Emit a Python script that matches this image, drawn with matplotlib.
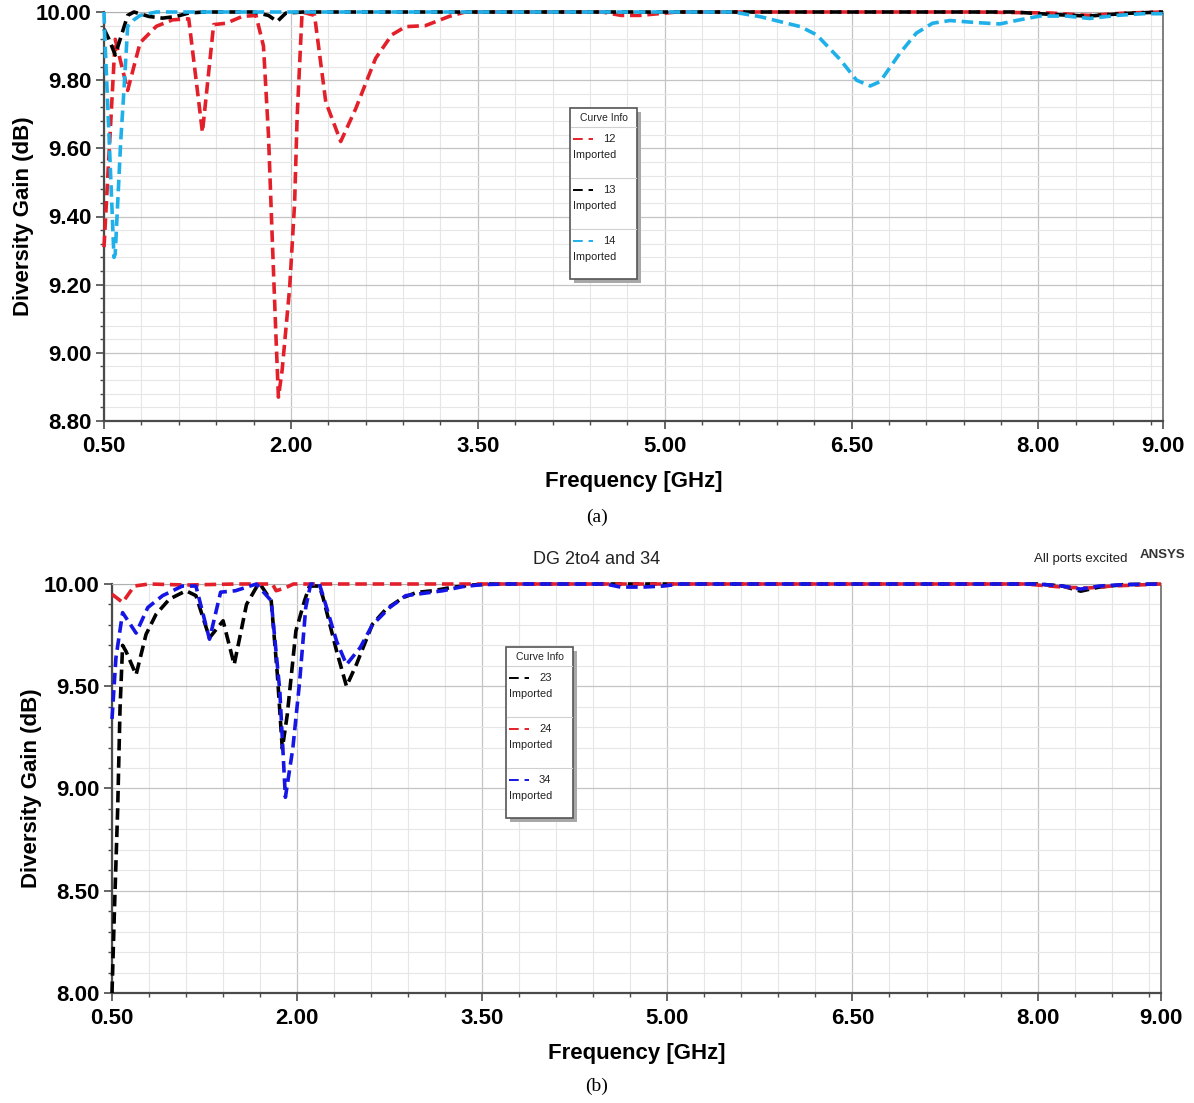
import matplotlib
matplotlib.use("Agg")
import matplotlib.pyplot as plt
from matplotlib.ticker import FixedLocator, MultipleLocator, FormatStrFormatter
from matplotlib.patches import Rectangle
from matplotlib.lines import Line2D

plt.rcParams['font.family'] = ['Liberation Sans', 'DejaVu Sans']

# ---------------- data: panel (a) ----------------
freq_12 = [0.50, 0.59, 0.69, 0.79, 0.92, 1.05, 1.18, 1.29, 1.38, 1.48, 1.61, 1.72,
           1.78, 1.82, 1.85, 1.88, 1.90, 1.93, 1.99, 2.03, 2.05, 2.09, 2.19, 2.28,
           2.40, 2.52, 2.68, 2.81, 2.92, 3.08, 3.27, 3.40, 3.60, 4.50, 4.65, 4.80,
           4.95, 5.10, 7.50, 8.10, 8.40, 8.70, 9.00]
dg_12 = [9.31, 9.92, 9.77, 9.91, 9.958, 9.977, 9.98, 9.647, 9.963, 9.967, 9.987, 9.99,
         9.90, 9.64, 9.34, 9.05, 8.87, 8.95, 9.19, 9.44, 9.69, 10.0, 9.99, 9.736,
         9.62, 9.716, 9.864, 9.933, 9.957, 9.96, 9.987, 10.0, 10.0, 10.0, 9.99, 9.99,
         9.995, 10.0, 10.0, 9.997, 9.99, 9.997, 10.0]

freq_13 = [0.50, 0.54, 0.59, 0.69, 0.74, 0.86, 0.97, 1.08, 1.18, 1.30, 1.70, 1.82,
           1.89, 1.96, 2.10, 7.80, 8.10, 8.40, 8.70, 9.00]
dg_13 = [9.95, 9.92, 9.874, 9.99, 10.0, 9.987, 9.982, 9.987, 9.997, 10.0, 10.0, 9.99,
         9.972, 9.997, 10.0, 10.0, 9.993, 9.988, 9.996, 10.0]

freq_14 = [0.50, 0.505, 0.54, 0.58, 0.59, 0.634, 0.66, 0.69, 0.74, 0.79, 0.92, 5.55,
           5.77, 6.09, 6.22, 6.41, 6.54, 6.65, 6.73, 6.89, 7.02, 7.15, 7.29, 7.50,
           7.69, 7.85, 8.01, 8.23, 8.41, 8.63, 8.84, 9.00]
dg_14 = [10.0, 9.94, 9.64, 9.28, 9.29, 9.62, 9.77, 9.958, 9.977, 9.99, 10.0, 10.0,
         9.986, 9.957, 9.933, 9.86, 9.80, 9.783, 9.796, 9.88, 9.938, 9.967, 9.975, 9.969,
         9.965, 9.977, 9.988, 9.988, 9.981, 9.99, 9.995, 9.995]

# ---------------- data: panel (b) ----------------
freq_23 = [0.50, 0.52, 0.546, 0.565, 0.586, 0.614, 0.695, 0.776, 0.857, 0.965, 1.10,
           1.18, 1.29, 1.40, 1.49, 1.59, 1.67, 1.70, 1.79, 1.84, 1.88, 1.92, 1.99,
           2.06, 2.10, 2.18, 2.21, 2.32, 2.40, 2.48, 2.61, 2.72, 2.86, 2.97, 3.10,
           3.26, 3.42, 3.56, 8.00, 8.20, 8.35, 8.50, 8.70, 9.00]
dg_23 = [8.00, 8.41, 8.90, 9.39, 9.70, 9.67, 9.556, 9.754, 9.852, 9.926, 9.967,
         9.943, 9.737, 9.82, 9.606, 9.90, 9.984, 10.0, 9.918, 9.557, 9.195, 9.36, 9.77,
         9.918, 9.99, 9.99, 9.934, 9.672, 9.50, 9.606, 9.803, 9.877, 9.934, 9.959, 9.967,
         9.984, 9.995, 10.0, 10.0, 9.99, 9.965, 9.985, 9.997, 10.0]

freq_24 = [0.50, 0.586, 0.68, 0.80, 1.10, 1.50, 1.80, 1.83, 1.90, 1.97, 2.10, 7.90,
           8.20, 8.40, 8.60, 9.00]
dg_24 = [9.95, 9.91, 9.99, 10.0, 9.995, 10.0, 10.0, 9.967, 9.98, 10.0, 10.0, 10.0,
         9.985, 9.98, 9.99, 10.0]

freq_34 = [0.50, 0.532, 0.586, 0.695, 0.79, 0.91, 1.07, 1.18, 1.29, 1.38, 1.50, 1.67,
           1.79, 1.86, 1.905, 1.965, 2.02, 2.07, 2.11, 2.18, 2.21, 2.32, 2.40, 2.51,
           2.61, 2.75, 2.88, 3.02, 3.18, 3.34, 3.50, 3.70, 4.50, 4.62, 4.80, 4.97,
           5.10, 8.00, 8.20, 8.35, 8.50, 8.70, 9.00]
dg_34 = [9.34, 9.64, 9.86, 9.76, 9.885, 9.943, 9.99, 9.99, 9.73, 9.96, 9.967, 10.0,
         9.918, 9.475, 8.957, 9.195, 9.52, 9.885, 10.0, 10.0, 9.943, 9.72, 9.606, 9.688,
         9.80, 9.885, 9.943, 9.954, 9.967, 9.987, 9.997, 10.0, 10.0, 9.985, 9.985, 9.99,
         10.0, 10.0, 9.99, 9.975, 9.99, 9.997, 10.0]

x_ticks = [0.5, 2.0, 3.5, 5.0, 6.5, 8.0, 9.0]
yticks_a = [8.8, 9.0, 9.2, 9.4, 9.6, 9.8, 10.0]
yticks_b = [8.0, 8.5, 9.0, 9.5, 10.0]

RED = '#e3202a'
BLACK = '#000000'
CYAN = '#1fb0ea'
BLUE = '#1515e6'

W, H = 1194, 1103
fig = plt.figure(figsize=(W / 100, H / 100), dpi=100)


def fx(x):
    return x / W


def fy(y):
    return 1 - y / H


def make_axes(left, top, right, bottom, yticks, ystep_minor):
    ax = fig.add_axes([fx(left), fy(bottom), fx(right) - fx(left), fy(top) - fy(bottom)])
    ax.set_xlim(0.5, 9.0)
    ax.set_ylim(yticks[0], yticks[-1])
    ax.xaxis.set_major_locator(FixedLocator(x_ticks))
    ax.xaxis.set_minor_locator(FixedLocator([0.5 + 0.3 * k for k in range(29)]))
    ax.yaxis.set_major_locator(FixedLocator(yticks))
    ax.yaxis.set_minor_locator(MultipleLocator(ystep_minor))
    ax.xaxis.set_major_formatter(FormatStrFormatter('%.2f'))
    ax.yaxis.set_major_formatter(FormatStrFormatter('%.2f'))
    ax.grid(which='major', color='#c4c4c4', linewidth=0.9)
    ax.grid(which='minor', color='#e6e6e6', linewidth=0.8)
    ax.set_axisbelow(True)
    for s in ('left', 'bottom'):
        ax.spines[s].set_color('#4a4a4a')
        ax.spines[s].set_linewidth(1.6)
    ax.spines['right'].set_color('#6a6a6a')
    ax.spines['right'].set_linewidth(1.2)
    ax.spines['top'].set_color('#b0b0b0')
    ax.spines['top'].set_linewidth(0.8)
    ax.tick_params(which='major', direction='out', length=6, width=1.2, color='#4a4a4a',
                   labelsize=16)
    ax.tick_params(which='minor', direction='out', length=3, width=1.0, color='#4a4a4a')
    ax.tick_params(axis='x', which='major', pad=5)
    ax.tick_params(axis='y', which='major', pad=3)
    for lab in ax.get_xticklabels() + ax.get_yticklabels():
        lab.set_fontweight('bold')
    ax.set_xlabel('Frequency [GHz]', fontsize=16, fontweight='bold', labelpad=10)
    ax.set_ylabel('Diversity Gain (dB)', fontsize=16, fontweight='bold', labelpad=1.5)
    return ax


def draw_curve(ax, f, v, color):
    ax.plot(f, v, color=color, linewidth=2.6, dashes=(3.2, 1.6), clip_on=False,
            solid_capstyle='butt', dash_capstyle='butt', zorder=3)


def curve_info(left, top, names, colors):
    width, height = 67, 171
    fig.patches.append(Rectangle((fx(left + 4), fy(top + height + 4)), width / W, height / H,
                                 transform=fig.transFigure, facecolor='#a8a8a8',
                                 edgecolor='none', zorder=5))
    fig.patches.append(Rectangle((fx(left), fy(top + height)), width / W, height / H,
                                 transform=fig.transFigure, facecolor='white',
                                 edgecolor='#555555', linewidth=1.2, zorder=6))
    fig.text(fx(left + width / 2), fy(top + 10), 'Curve Info', fontsize=7.5,
             ha='center', va='center', color='#222222', zorder=7)
    for sep in (19, 70, 121):
        fig.lines.append(Line2D([fx(left + 1), fx(left + width - 1)],
                                [fy(top + sep), fy(top + sep)], transform=fig.transFigure,
                                color='#d0d0d0', linewidth=0.8, zorder=7))
    for i, (name, col) in enumerate(zip(names, colors)):
        y0 = top + 31 + 51 * i
        fig.lines.append(Line2D([fx(left + 3), fx(left + 23)], [fy(y0), fy(y0)],
                                transform=fig.transFigure, color=col, linewidth=1.4,
                                dashes=(5, 3), zorder=7))
        fig.text(fx(left + 33), fy(y0), name, fontsize=8, ha='left', va='center',
                 color='#222222', zorder=7)
        fig.text(fx(left + 3), fy(y0 + 16), 'Imported', fontsize=7.8, ha='left',
                 va='center', color='#222222', zorder=7)


# panel (a)
ax_a = make_axes(104, 12, 1163, 421, yticks_a, 0.04)
draw_curve(ax_a, freq_12, dg_12, RED)
draw_curve(ax_a, freq_13, dg_13, BLACK)
draw_curve(ax_a, freq_14, dg_14, CYAN)
curve_info(570, 108, ['12', '13', '14'], [RED, BLACK, CYAN])

# panel (b)
ax_b = make_axes(112, 584, 1161, 993, yticks_b, 0.1)
draw_curve(ax_b, freq_23, dg_23, BLACK)
draw_curve(ax_b, freq_24, dg_24, RED)
draw_curve(ax_b, freq_34, dg_34, BLUE)
curve_info(506, 647, ['23', '24', '34'], [BLACK, RED, BLUE])

fig.text(fx(597), fy(559), 'DG 2to4 and 34', fontsize=13, ha='center', va='center',
         color='#222222')
fig.text(fx(1127), fy(559), 'All ports excited', fontsize=9.5, ha='right', va='center',
         color='#222222')
fig.text(fx(1185), fy(555), 'ANSYS', fontsize=9.5, ha='right', va='center',
         fontweight='bold', color='#333333')

serif = ['Liberation Serif', 'DejaVu Serif']
fig.text(fx(597), fy(517), '(a)', fontsize=14, ha='center', va='center', family=serif)
fig.text(fx(597), fy(1086), '(b)', fontsize=14, ha='center', va='center', family=serif)

fig.savefig('out.png', dpi=100, facecolor='white')
